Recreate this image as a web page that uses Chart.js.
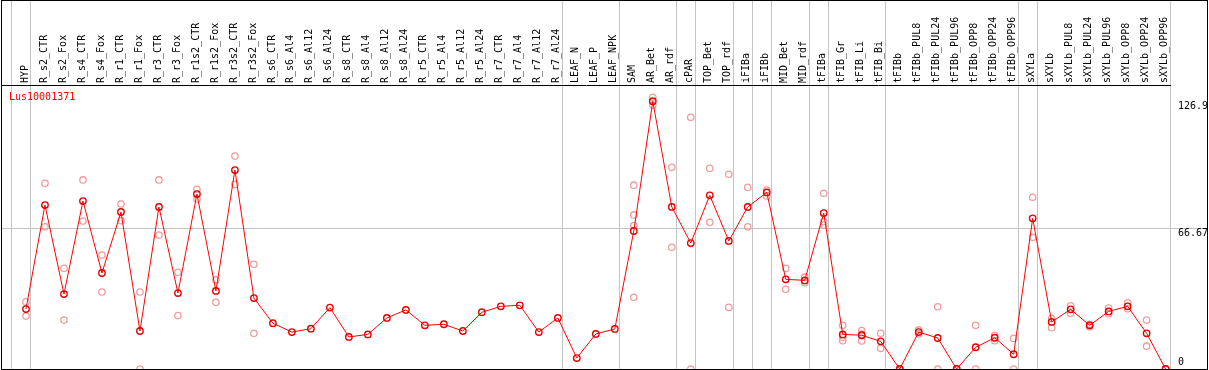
<!DOCTYPE html>
<html>
<head>
<meta charset="utf-8">
<script src="https://cdn.jsdelivr.net/npm/chart.js@4"></script>
<style>
  body { margin: 0; background: #fff; }
  canvas { display: block; }
</style>
</head>
<body>
<canvas id="chart" width="1209" height="370"></canvas>
<script>
var geneName = 'Lus10001371';

var categories = ['HYP', 'R_s2_CTR', 'R_s2_Fox', 'R_s4_CTR', 'R_s4_Fox', 'R_r1_CTR', 'R_r1_Fox',
  'R_r3_CTR', 'R_r3_Fox', 'R_r1s2_CTR', 'R_r1s2_Fox', 'R_r3s2_CTR', 'R_r3s2_Fox',
  'R_s6_CTR', 'R_s6_Al4', 'R_s6_Al12', 'R_s6_Al24', 'R_s8_CTR', 'R_s8_Al4', 'R_s8_Al12', 'R_s8_Al24',
  'R_r5_CTR', 'R_r5_Al4', 'R_r5_Al12', 'R_r5_Al24', 'R_r7_CTR', 'R_r7_Al4', 'R_r7_Al12', 'R_r7_Al24',
  'LEAF_N', 'LEAF_P', 'LEAF_NPK', 'SAM', 'AR_Bet', 'AR_rdf', 'cPAR', 'TOP_Bet', 'TOP_rdf',
  'iFIBa', 'iFIBb', 'MID_Bet', 'MID_rdf', 'tFIBa', 'tFIB_Gr', 'tFIB_Li', 'tFIB_Bi', 'tFIBb',
  'tFIBb_PUL8', 'tFIBb_PUL24', 'tFIBb_PUL96', 'tFIBb_OPP8', 'tFIBb_OPP24', 'tFIBb_OPP96',
  'sXYLa', 'sXYLb', 'sXYLb_PUL8', 'sXYLb_PUL24', 'sXYLb_PUL96', 'sXYLb_OPP8', 'sXYLb_OPP24', 'sXYLb_OPP96'];

// mean expression per sample
var meanValues = [28.4, 77.7, 35.5, 79.6, 45.5, 74.4, 18.0, 76.8, 36.0, 82.9, 37.0, 94.3, 33.6,
  21.7, 17.5, 19.1, 29.1, 15.2, 16.4, 24.2, 28.0, 20.7, 21.2, 18.0, 26.9, 29.7, 30.2, 17.5, 24.2,
  5.2, 16.6, 19.0, 65.4, 126.9, 76.8, 59.7, 82.3, 60.7, 76.8, 83.7, 42.5, 42.0, 73.9, 16.4, 16.0, 13.1,
  0, 17.5, 14.7, 0, 10.3, 14.8, 7.0,
  71.4, 22.3, 28.3, 20.7, 27.3, 29.7, 16.9, 0];

// replicates
var rep1 = [31.8, 88.0, 47.7, 89.6, 54.0, 78.2, 36.5, 89.6, 45.8, 85.2, 42.2, 100.9, 49.6,
  null, null, null, null, null, null, null, null, null, null, null, null, null, null, null, null,
  null, null, null, 87.1, 128.8, 95.6, 119.3, 95.1, 92.3, 86.1, 84.8, 47.7, 43.5, 83.3, 20.7, 18.2, 16.9,
  0, 18.5, 29.5, 0, 20.7, 16.0, 14.5,
  81.4, 24.0, 29.9, 21.2, 28.9, 31.4, 23.2, 0];
var rep2 = [25.1, 67.4, 23.2, 70.1, 36.5, 70.3, 0, 63.5, 25.3, 80.6, 31.6, 87.5, 16.9,
  null, null, null, null, null, null, null, null, null, null, null, null, null, null, null, null,
  null, null, null, 73.0, 125.0, 57.7, 0, 69.5, 29.2, 67.4, 82.0, 37.8, 40.9, 69.8, 13.4, 13.3, 9.8,
  0, 16.6, 0, 0, 0, 13.4, 0,
  62.4, 19.6, 26.4, 20.0, 26.2, 28.6, 10.8, 0];
var rep3 = [null, null, null, null, null, null, null, null, null, null, null, null, null,
  null, null, null, null, null, null, null, null, null, null, null, null, null, null, null, null,
  null, null, null, 68.0, null, null, null, null, null, null, null, null, null, 68.2, 15.1, 16.5, null,
  null, null, null, null, null, null, null,
  null, null, null, null, null, null, null, null];
var rep4 = [null, null, null, null, null, null, null, null, null, null, null, null, null,
  null, null, null, null, null, null, null, null, null, null, null, null, null, null, null, null,
  null, null, null, 34.0, null, null, null, null, null, null, null, null, null, null, null, null, null,
  null, null, null, null, null, null, null,
  null, null, null, null, null, null, null, null];

// group separators come after these sample indices
var groupEnds = [-1, 0, 28, 31, 34, 35, 37, 38, 39, 41, 42, 45, 52, 53, 60];

var yTicks = [0, 66.67, 126.9];
var yTickLabels = ['0', '66.67', '126.9'];

var xMin = -1.263, xMax = 60.23, yMax = 134.6;

var mainPoints = meanValues.map(function (v, i) { return { x: i, y: v }; });
var repPoints = [];
[rep1, rep2, rep3, rep4].forEach(function (r) {
  r.forEach(function (v, i) { if (v !== null) repPoints.push({ x: i, y: v }); });
});

Chart.defaults.font.family = 'DejaVu Sans Mono';
Chart.defaults.font.size = 10;
Chart.defaults.color = '#000';

// axes must not push the plot area in
function noPadding(s) {
  s.paddingLeft = 0; s.paddingRight = 0; s.paddingTop = 0; s.paddingBottom = 0;
}

var framePlugin = {
  id: 'frame',
  afterDraw: function (chart) {
    var c = chart.ctx, a = chart.chartArea;
    c.save();
    c.fillStyle = '#ff0000';
    c.font = '10px "DejaVu Sans Mono"';
    c.textBaseline = 'middle';
    c.fillText(geneName, a.left + 7, a.top + 12);
    c.strokeStyle = '#000';
    c.lineWidth = 1;
    c.strokeRect(1.5, 0.5, 1206, 369);
    c.restore();
  }
};

var ctx = document.getElementById('chart').getContext('2d');
var chart = new Chart(ctx, {
  type: 'line',
  data: {
    datasets: [{
      label: geneName,
      data: mainPoints,
      xAxisID: 'x',
      borderColor: '#ff0000',
      borderWidth: 1,
      pointRadius: 3.2,
      pointBorderWidth: 1.4,
      pointBorderColor: '#e60000',
      pointBackgroundColor: 'rgba(0,0,0,0)',
      tension: 0,
      clip: false,
      order: 0
    }, {
      label: 'replicates',
      data: repPoints,
      xAxisID: 'x',
      showLine: false,
      pointRadius: 3.2,
      pointBorderWidth: 1.3,
      pointBorderColor: '#f09c9c',
      pointBackgroundColor: 'rgba(0,0,0,0)',
      clip: false,
      order: 1
    }]
  },
  options: {
    responsive: false,
    animation: false,
    devicePixelRatio: 1,
    layout: { autoPadding: false, padding: { left: 2, right: 2, top: 0, bottom: 1 } },
    plugins: { legend: { display: false }, tooltip: { enabled: false } },
    scales: {
      x: {
        type: 'linear',
        position: 'top',
        weight: 1,
        min: xMin,
        max: xMax,
        afterBuildTicks: function (s) { s.ticks = categories.map(function (c, i) { return { value: i }; }); },
        afterFit: function (s) { s.height = 85; noPadding(s); },
        grid: { display: false, drawTicks: false },
        border: { display: true, color: '#000', width: 1 },
        ticks: {
          autoSkip: false,
          maxRotation: 90,
          minRotation: 90,
          padding: 2,
          labelOffset: 11,
          callback: function (v) { return categories[v]; }
        }
      },
      xg: {
        type: 'linear',
        display: true,
        position: 'top',
        weight: 0,
        min: xMin,
        max: xMax,
        afterBuildTicks: function (s) { s.ticks = groupEnds.map(function (i) { return { value: i + 0.23 }; }); },
        afterFit: function (s) { s.height = 0; noPadding(s); },
        grid: { color: '#c4c4c4', lineWidth: 1, drawTicks: true, tickLength: 85 },
        border: { display: false },
        ticks: { display: false }
      },
      y: {
        type: 'linear',
        position: 'right',
        min: 0,
        max: yMax,
        afterBuildTicks: function (s) { s.ticks = yTicks.map(function (v) { return { value: v }; }); },
        afterFit: function (s) { s.width = 37; noPadding(s); },
        grid: {
          drawTicks: true,
          tickLength: 37,
          color: function (c) { return c.tick && c.tick.value === 66.67 ? '#c4c4c4' : 'rgba(0,0,0,0)'; }
        },
        border: { display: false },
        ticks: {
          padding: -29,
          labelOffset: 5,
          callback: function (v, i) { return v === 0 ? [yTickLabels[i], '', ''] : yTickLabels[i]; }
        }
      }
    }
  },
  plugins: [framePlugin]
});
</script>
</body>
</html>
